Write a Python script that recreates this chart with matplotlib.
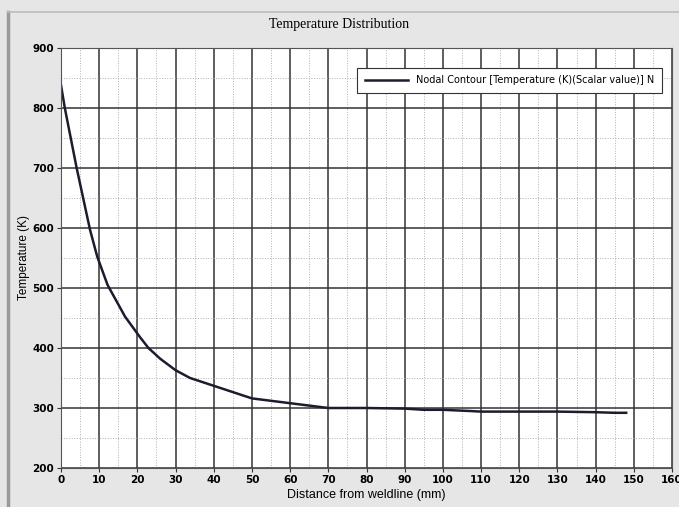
import matplotlib.pyplot as plt
from matplotlib.lines import Line2D
from matplotlib.ticker import MultipleLocator

# distance from weldline (mm) and nodal temperature (K)
distance = [0, 1, 4.1, 7.6, 9.5, 12.2, 16.8, 20.7, 22.9, 26, 30, 33.8, 40, 50, 60,
            70, 80, 90, 95, 100, 107, 110, 120, 130, 140, 145, 148]
temperature = [838, 800, 700, 597, 552, 505, 452, 418, 400, 382, 363, 350, 337,
               316, 308, 300, 300, 299, 297, 297, 295, 294, 294, 294, 293, 292, 292]

x_ticks = list(range(0, 161, 10))
y_ticks = list(range(200, 901, 100))

fig = plt.figure(figsize=(6.79, 5.07), dpi=100, facecolor='#e6e6e6')
ax = fig.add_axes([61 / 679, 1 - 468 / 507, 611 / 679, 420 / 507])
ax.set_facecolor('white')

# window-like border on the left and top
fig.add_artist(Line2D([8 / 679, 8 / 679], [0, 1 - 12 / 507], color='#9a9a9a', lw=2.5))
fig.add_artist(Line2D([8 / 679, 1], [1 - 12 / 507, 1 - 12 / 507], color='#bdbdbd', lw=1.2))

ax.plot(distance, temperature, color='#1c1c2e', lw=1.8,
        label='Nodal Contour [Temperature (K)(Scalar value)] N')

ax.set_xlim(0, 160)
ax.set_ylim(200, 900)
ax.set_xticks(x_ticks)
ax.set_yticks(y_ticks)
ax.xaxis.set_minor_locator(MultipleLocator(5))
ax.yaxis.set_minor_locator(MultipleLocator(50))
ax.grid(which='major', color='#333333', lw=1.1)
ax.grid(which='minor', color='#b0b0b0', lw=0.7, ls=':')
ax.tick_params(which='major', length=3, labelsize=7.5, color='#333333', pad=2)
ax.tick_params(which='minor', length=0)
for lbl in ax.get_xticklabels() + ax.get_yticklabels():
    lbl.set_fontweight('bold')
for s in ax.spines.values():
    s.set_color('#555555')

ax.set_xlabel('Distance from weldline (mm)', fontsize=9, family='Liberation Sans', labelpad=3)
ax.set_ylabel('Temperature (K)', fontsize=8.5, family='Liberation Sans', labelpad=0)
ax.yaxis.set_label_coords(-0.05, 0.5)
fig.text(0.5, 0.952, 'Temperature Distribution', ha='center', va='center',
         fontsize=10, family='Liberation Serif')

leg = ax.legend(loc='upper right', bbox_to_anchor=(0.992, 0.965), fontsize=7,
                fancybox=False, framealpha=1, edgecolor='#333333',
                handlelength=4.5, borderpad=0.8)
leg.get_frame().set_linewidth(0.8)

fig.savefig('out.png', dpi=100, facecolor=fig.get_facecolor())
